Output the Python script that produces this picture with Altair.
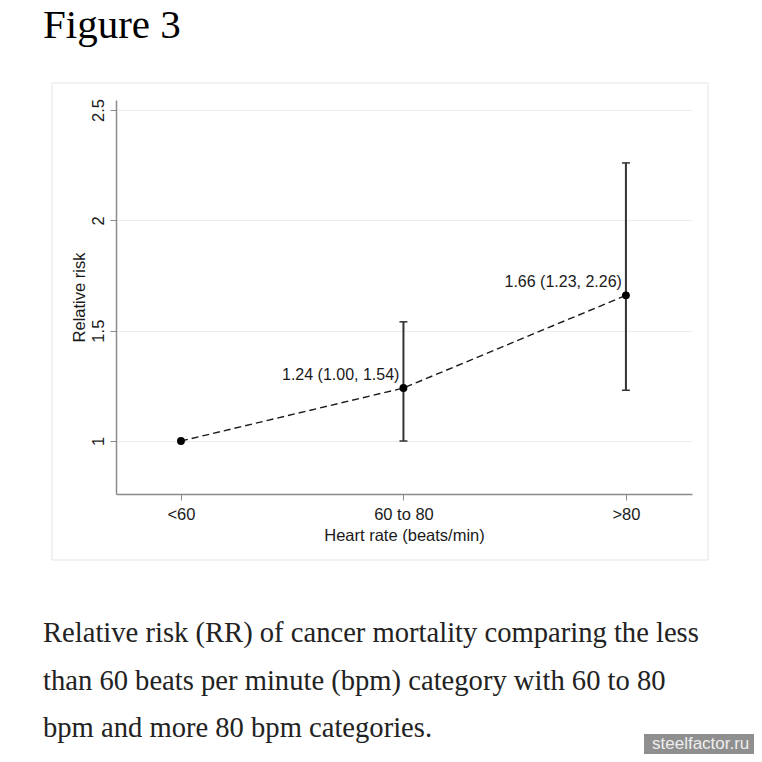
import json
import altair as alt
import pandas as pd

# ---- data ----
categories = ["<60", "60 to 80", ">80"]
positions = [1, 2, 3]
rr = [1.00, 1.24, 1.66]
ci_low = [None, 1.00, 1.23]
ci_high = [None, 1.54, 2.26]
annotations = ["", "1.24 (1.00, 1.54)", "1.66 (1.23, 2.26)"]
y_ticks = [1, 1.5, 2, 2.5]

figure_title = "Figure 3"
x_title = "Heart rate (beats/min)"
y_title = "Relative risk"
caption_lines = [
    "Relative risk (RR) of cancer mortality comparing the less",
    "than 60 beats per minute (bpm) category with 60 to 80",
    "bpm and more 80 bpm categories.",
]
watermark = "steelfactor.ru"

df = pd.DataFrame({"pos": positions, "cat": categories, "rr": rr,
                   "lo": ci_low, "hi": ci_high, "ann": annotations})
df_ci = df.dropna(subset=["lo", "hi"])
df_ann = df[df["ann"] != ""]

SANS = "Liberation Sans"
SERIF = "Liberation Serif"

x_label_expr = json.dumps(categories) + "[datum.value - 1]"

xscale = alt.Scale(domain=[0.708, 3.297], nice=False, zero=False)
yscale = alt.Scale(domain=[0.76, 2.545], nice=False, zero=False)

x_enc = alt.X("pos:Q", scale=xscale, axis=alt.Axis(
    values=positions, labelExpr=x_label_expr, title=x_title, grid=False,
    domainColor="#8a8a8a", domainWidth=1.5, tickColor="#8a8a8a", tickSize=6,
    labelFont=SANS, labelFontSize=16.5, labelColor="#1a1a1a",
    labelBaseline="alphabetic", labelPadding=19, labelAlign="center",
    titleFont=SANS, titleFontSize=16.5, titleFontWeight="normal", titleColor="#1a1a1a",
    titleBaseline="alphabetic", titleX=288, titleY=46, titleAlign="center",
))
y_enc = alt.Y("rr:Q", scale=yscale, axis=alt.Axis(
    values=y_ticks, format="~g", title=y_title, grid=True,
    gridColor="#ececec", gridWidth=1,
    domainColor="#8a8a8a", domainWidth=1.5, tickColor="#8a8a8a", tickSize=6,
    labelFont=SANS, labelFontSize=16.5, labelColor="#1a1a1a",
    labelAngle=270, labelAlign="center", labelBaseline="alphabetic", labelPadding=7,
    titleFont=SANS, titleFontSize=16.5, titleFontWeight="normal", titleColor="#1a1a1a",
    titleAngle=270, titleAlign="center", titleBaseline="alphabetic",
    titleX=-32, titleY=197,
))

base = alt.Chart(df)

line = base.mark_line(color="#1a1a1a", strokeWidth=1.4, strokeDash=[7, 4]).encode(x=x_enc, y=y_enc)
rules = alt.Chart(df_ci).mark_rule(color="#333333", strokeWidth=2).encode(
    x=alt.X("pos:Q", scale=xscale), y=alt.Y("lo:Q", scale=yscale), y2="hi:Q")
cap_lo = alt.Chart(df_ci).mark_tick(orient="horizontal", size=8, thickness=1.5, color="#333333", opacity=1).encode(
    x=alt.X("pos:Q", scale=xscale), y=alt.Y("lo:Q", scale=yscale))
cap_hi = alt.Chart(df_ci).mark_tick(orient="horizontal", size=8, thickness=1.5, color="#333333", opacity=1).encode(
    x=alt.X("pos:Q", scale=xscale), y=alt.Y("hi:Q", scale=yscale))
points = base.mark_point(filled=True, size=62, color="#000000", opacity=1).encode(
    x=alt.X("pos:Q", scale=xscale), y=alt.Y("rr:Q", scale=yscale))
labels = alt.Chart(df_ann).mark_text(font=SANS, fontSize=16, color="#1a1a1a", align="right",
                                     baseline="alphabetic", dx=-4, dy=-8).encode(
    x=alt.X("pos:Q", scale=xscale), y=alt.Y("rr:Q", scale=yscale), text="ann:N")

# decorative layers
panel = alt.Chart(pd.DataFrame({"k": [0]})).mark_rect(fillOpacity=0, stroke="#e4e4e4", strokeWidth=1).encode(
    x=alt.value(-64), x2=alt.value(592), y=alt.value(-17), y2=alt.value(460))
title = alt.Chart(pd.DataFrame({"t": [figure_title]})).mark_text(
    font=SERIF, fontSize=41, color="#000000", align="left", baseline="alphabetic").encode(
    x=alt.value(-73), y=alt.value(-62), text="t:N")
cap_layers = []
for line_text, yy in zip(caption_lines, [542, 590, 637]):
    cap_layers.append(alt.Chart(pd.DataFrame({"t": [line_text]})).mark_text(
        font=SERIF, fontSize=28.6, color="#222222", align="left", baseline="alphabetic").encode(
        x=alt.value(-73), y=alt.value(yy), text="t:N"))
wm_box = alt.Chart(pd.DataFrame({"k": [0]})).mark_rect(color="#8f8f8f").encode(
    x=alt.value(528), x2=alt.value(640), y=alt.value(634), y2=alt.value(656))
wm_text = alt.Chart(pd.DataFrame({"t": [watermark]})).mark_text(
    font=SANS, fontSize=17, color="#eeeeee", align="left", baseline="alphabetic").encode(
    x=alt.value(536), y=alt.value(649), text="t:N")

chart = alt.layer(panel, line, rules, cap_lo, cap_hi, points, labels, title,
                  *cap_layers, wm_box, wm_text).properties(
    width=576, height=394,
    padding={"left": 108, "top": 92, "right": 62, "bottom": 260},
    autosize=alt.AutoSizeParams(type="none"),
    background="white",
).configure_view(stroke=None)

chart.save("out.html", embed_options={"renderer": "svg", "actions": False})
